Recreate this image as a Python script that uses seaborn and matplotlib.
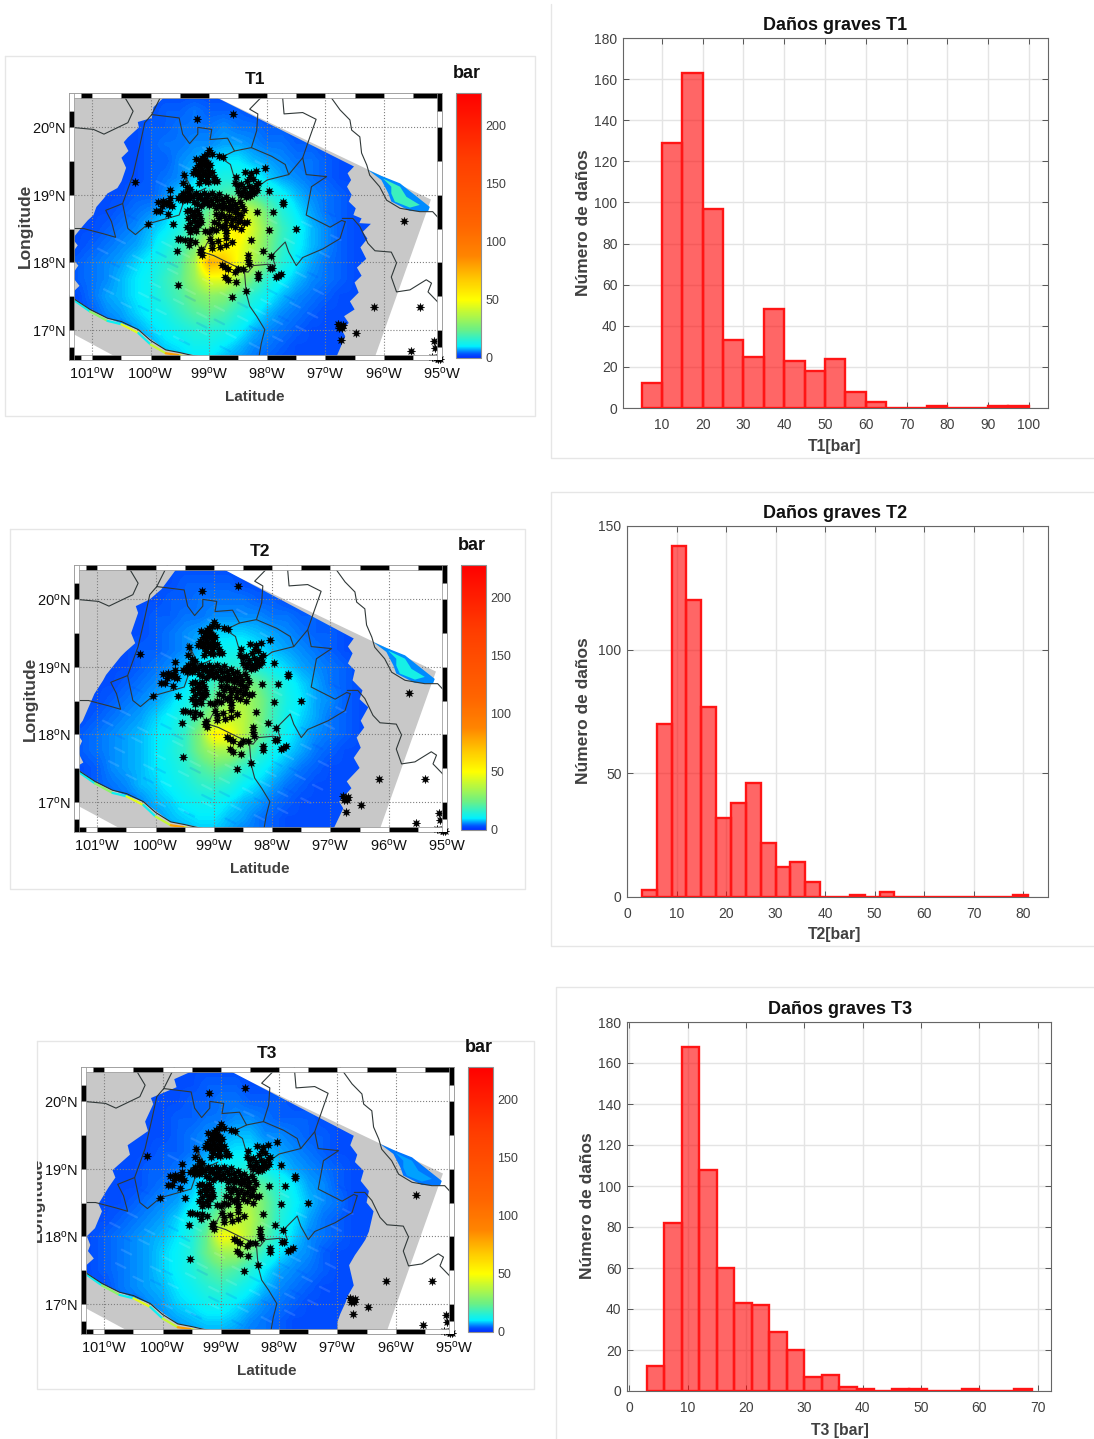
import matplotlib
matplotlib.use('Agg')
import matplotlib.pyplot as plt
import seaborn as sb
import numpy as np
from matplotlib.colors import LinearSegmentedColormap, Normalize
from matplotlib.cm import ScalarMappable
from matplotlib.patches import Polygon, Rectangle
from matplotlib.lines import Line2D
from matplotlib.transforms import Bbox, blended_transform_factory

W, H = 1094, 1439

# histograms: bin edges start, width and counts
t1_start, t1_width = 5, 5
t1_counts = [12, 129, 163, 97, 33, 25, 48, 23, 18, 24, 8, 3, 0, 0, 1, 0, 0, 1, 1]
t2_start, t2_width = 3, 3
t2_counts = [3, 70, 142, 120, 77, 32, 38, 46, 22, 12, 14, 6, 0, 0, 1, 0, 2, 0, 0, 0, 0, 0, 0, 0, 0, 1]
t3_start, t3_width = 3, 3
t3_counts = [12, 82, 168, 108, 60, 43, 42, 29, 20, 7, 8, 2, 1, 0, 1, 1, 0, 0, 1, 0, 0, 1]

# colour bar
cbar_ticks = [0, 50, 100, 150, 200]
cbar_max = 228
cmap_bar = [0, 3, 5, 7, 10, 25, 50, 68, 88, 115, 173, 228]
cmap_col = ['#0030ff', '#0050ff', '#0078ff', '#00a8ff', '#00f0ff', '#70f080', '#ffff00',
            '#ffc800', '#ff8400', '#ff6400', '#ff3c00', '#ff0000']

# map axes
lon_ticks = [-101, -100, -99, -98, -97, -96, -95]
lat_ticks = [17, 18, 19, 20]
lon_grid = [-101.5 + 0.25 * i for i in range(25)]
lat_grid = [20.5 - 0.25 * i for i in range(17)]

# bar values, rows north to south
t1_field = [
    [3]*25,
    [3,3,3,3,3,3,3,4,4,5,4,4,4,3,3,3,3,3,3,3,3,3,3,3,3],
    [3,3,3,3,3,3,4,4,5,5,5,6,5,5,4,4,3,3,3,3,3,3,3,3,3],
    [3,3,3,3,3,3,4,5,5,6,6,7,7,6,5,5,4,4,3,3,3,3,3,3,3],
    [3,3,3,3,3,3,4,4,6,7,9,10,10,8,7,6,5,5,4,3,3,3,3,3,3],
    [3,3,3,3,3,3,4,5,6,9,12,14,14,12,9,7,6,5,4,3,3,3,3,3,3],
    [3,3,3,3,3,4,4,6,9,12,16,20,22,20,15,11,8,6,5,4,3,3,3,3,3],
    [3,3,3,3,4,5,6,8,11,16,24,36,47,38,24,15,10,7,5,4,3,3,3,3,3],
    [3,3,3,4,5,6,8,10,14,21,30,44,57,42,28,18,12,8,6,4,3,3,3,3,3],
    [3,3,4,5,6,7,9,13,18,26,42,52,50,38,26,17,11,8,6,4,3,3,3,3,3],
    [3,4,5,6,7,9,11,15,20,34,76,70,48,36,24,15,10,7,5,4,3,3,3,3,3],
    [3,4,5,6,8,10,12,17,22,32,46,46,34,24,15,11,8,6,5,4,3,3,3,3,3],
    [3,3,5,7,8,10,12,16,20,26,30,28,21,15,11,8,6,5,4,3,3,3,3,3,3],
    [3,3,4,6,7,9,11,13,17,21,23,20,15,11,8,6,5,4,3,3,3,3,3,3,3],
    [3,3,3,4,6,7,9,11,13,15,15,14,11,8,6,5,4,3,3,3,3,3,3,3,3],
    [3,3,3,3,4,5,7,9,10,12,12,10,8,6,5,4,3,3,3,3,3,3,3,3,3],
    [3,3,3,3,3,4,5,7,8,9,9,7,6,5,4,3,3,3,3,3,3,3,3,3,3],
]
t2_field = [
    [3]*25,
    [3,3,3,3,3,3,3,3,4,4,4,4,3,3,3,3,3,3,3,3,3,3,3,3,3],
    [3,3,3,3,3,3,3,4,4,5,5,5,5,4,4,3,3,3,3,3,3,3,3,3,3],
    [3,3,3,3,3,3,4,4,5,5,6,6,6,6,5,5,4,4,3,3,3,3,3,3,3],
    [3,3,3,3,3,3,4,5,6,7,9,9,9,8,7,6,5,4,4,3,3,3,3,3,3],
    [3,3,3,3,3,4,4,5,6,8,11,12,12,10,8,7,6,5,4,3,3,3,3,3,3],
    [3,3,3,3,3,4,5,6,8,10,13,15,16,14,11,9,7,6,5,4,3,3,3,3,3],
    [3,3,3,3,4,5,6,7,9,13,18,24,28,24,17,12,9,7,5,4,3,3,3,3,3],
    [3,3,3,4,5,6,7,9,12,17,24,32,36,28,19,13,10,7,6,4,3,3,3,3,3],
    [3,3,4,5,6,7,9,11,15,22,32,40,38,28,18,12,9,7,5,4,3,3,3,3,3],
    [3,4,5,6,7,8,10,12,17,28,54,52,38,26,16,11,8,6,5,4,3,3,3,3,3],
    [3,4,5,6,7,8,10,13,17,26,34,34,26,17,12,9,7,5,4,3,3,3,3,3,3],
    [3,3,4,6,7,8,10,12,15,20,24,21,16,12,9,7,5,4,3,3,3,3,3,3,3],
    [3,3,4,5,6,8,9,11,13,16,17,15,11,9,7,5,4,3,3,3,3,3,3,3,3],
    [3,3,3,4,5,6,8,9,11,12,12,10,8,7,5,4,3,3,3,3,3,3,3,3,3],
    [3,3,3,3,4,5,6,8,9,10,10,8,7,5,4,3,3,3,3,3,3,3,3,3,3],
    [3,3,3,3,3,4,5,6,7,8,8,7,5,5,4,3,3,3,3,3,3,3,3,3,3],
]
t3_field = [
    [3]*25,
    [3,3,3,3,3,3,3,3,3,4,4,4,3,3,3,3,3,3,3,3,3,3,3,3,3],
    [3,3,3,3,3,3,3,3,4,4,5,5,4,4,4,3,3,3,3,3,3,3,3,3,3],
    [3,3,3,3,3,3,3,4,4,5,5,6,6,5,4,4,4,3,3,3,3,3,3,3,3],
    [3,3,3,3,3,3,3,4,5,6,7,8,8,6,6,5,4,4,3,3,3,3,3,3,3],
    [3,3,3,3,3,3,4,4,5,7,9,10,10,8,7,6,5,4,3,3,3,3,3,3,3],
    [3,3,3,3,3,4,4,5,7,9,11,13,15,12,9,7,6,5,4,3,3,3,3,3,3],
    [3,3,3,3,3,4,5,6,8,11,15,21,26,21,14,10,7,6,4,3,3,3,3,3,3],
    [3,3,3,3,4,5,6,7,10,14,21,29,35,25,16,11,8,6,5,3,3,3,3,3,3],
    [3,3,3,4,5,6,7,9,13,19,29,39,37,25,15,10,7,5,4,3,3,3,3,3,3],
    [3,3,4,5,6,7,8,10,14,24,50,47,35,22,13,9,6,5,4,3,3,3,3,3,3],
    [3,3,4,5,6,7,9,11,15,24,33,33,24,15,10,7,6,4,3,3,3,3,3,3,3],
    [3,3,4,5,6,7,9,11,14,19,23,20,15,10,7,6,5,4,3,3,3,3,3,3,3],
    [3,3,3,5,6,7,8,10,12,15,17,14,11,8,6,5,4,3,3,3,3,3,3,3,3],
    [3,3,3,4,5,6,7,9,10,12,12,10,8,6,5,4,3,3,3,3,3,3,3,3,3],
    [3,3,3,3,4,5,6,7,8,9,9,8,6,5,4,3,3,3,3,3,3,3,3,3,3],
    [3,3,3,3,3,4,5,6,6,7,7,6,5,5,4,3,3,3,3,3,3,3,3,3,3],
]

# outline of the coloured part of each map
t1_edge_lon = [-99.74, -99.0, -96.51, -96.62, -96.56, -96.63, -96.55, -96.6, -96.48, -96.52, -96.38, -96.42, -96.22, -96.36, -96.28, -96.4,
               -96.3, -96.46, -96.38, -96.5, -96.43, -96.58, -96.5, -96.68, -96.6, -96.72, -96.66, -96.86, -99.04, -99.1, -99.74, -100.21,
               -100.74, -101.04, -101.32, -101.4, -101.22, -101.36, -101.24, -101.38, -101.25, -101.34, -101.15, -101.08, -100.98, -100.93,
               -100.8, -100.74, -100.57, -100.5, -100.42, -100.5, -100.38, -100.46, -100.39, -100.2, -100.22, -99.98, -99.95, -99.8]
t1_edge_lat = [20.5, 20.5, 19.42, 19.32, 19.22, 19.12, 19.0, 18.9, 18.8, 18.7, 18.65, 18.58, 18.57, 18.45, 18.35, 18.22,
               18.05, 17.92, 17.8, 17.7, 17.55, 17.42, 17.3, 17.2, 17.1, 17.0, 16.9, 16.5, 16.5, 16.6, 16.7, 17.0,
               17.17, 17.3, 17.47, 17.5, 17.65, 17.8, 17.95, 18.1, 18.25, 18.35, 18.55, 18.62, 18.7, 18.82,
               18.95, 19.02, 19.1, 19.2, 19.4, 19.55, 19.65, 19.78, 19.85, 20.0, 20.08, 20.14, 20.3, 20.42]
t2_edge_lon = [-99.6, -98.95, -96.6, -96.7, -96.62, -96.7, -96.58, -96.62, -96.45, -96.5, -96.35, -96.48, -96.42, -96.55, -96.48, -96.6, -96.5,
               -96.72, -96.64, -96.85, -96.78, -97.0, -99.04, -99.1, -99.74, -100.21, -100.74, -101.04, -101.32, -101.4, -101.24, -101.34, -101.26,
               -101.38, -101.25, -101.1, -101.05, -100.9, -100.85, -100.6, -100.52, -100.35, -100.42, -100.3, -100.34, -100.1, -99.9]
t2_edge_lat = [20.5, 20.5, 19.42, 19.3, 19.2, 19.05, 18.95, 18.8, 18.65, 18.52, 18.4, 18.2, 18.1, 17.95, 17.8, 17.65, 17.5,
               17.3, 17.2, 17.0, 16.9, 16.5, 16.5, 16.6, 16.7, 17.0, 17.17, 17.3, 17.47, 17.5, 17.58, 17.75, 17.9,
               18.05, 18.2, 18.5, 18.6, 18.8, 18.88, 19.15, 19.22, 19.35, 19.5, 19.8, 19.9, 20.0, 20.15]
t3_edge_lon = [-99.36, -98.95, -96.72, -96.78, -96.66, -96.7, -96.55, -96.6, -96.46, -96.5, -96.38, -96.46, -96.52, -96.58, -96.7, -96.8, -96.72,
               -96.82, -96.86, -96.95, -97.0, -97.0, -99.04, -99.1, -99.74, -100.21, -100.74, -101.04, -101.32, -101.4, -101.18, -101.28, -101.24, -101.3,
               -101.16, -101.04, -101.1, -100.93, -100.81, -100.86, -100.56, -100.6, -100.25, -100.3, -100.16, -100.2, -99.76, -99.8]
t3_edge_lat = [20.5, 20.5, 19.49, 19.35, 19.21, 19.1, 18.97, 18.82, 18.67, 18.5, 18.37, 18.07, 17.95, 17.87, 17.72, 17.57, 17.27,
               17.12, 17.02, 16.85, 16.73, 16.5, 16.5, 16.6, 16.7, 17.0, 17.17, 17.3, 17.47, 17.5, 17.67, 17.78, 17.87, 18.0,
               18.12, 18.37, 18.48, 18.72, 18.87, 18.98, 19.21, 19.35, 19.56, 19.7, 19.96, 20.05, 20.21, 20.33]

# grey swath
swath_lon = [-101.4, -99.0, -95.19, -96.19, -100.39, -101.4]
swath_lat = [20.5, 20.5, 18.93, 16.5, 16.5, 16.97]

# patch on the gulf side
gulf_lon = [-96.27, -96.04, -95.72, -95.21, -95.24, -95.55, -95.87, -95.92, -96.04]
gulf_lat = [19.37, 19.28, 19.17, 18.82, 18.75, 18.76, 18.90, 19.02, 19.22]
gulf_in_lon = [-96.01, -95.72, -95.61, -95.38, -95.55, -95.81, -95.87, -95.87]
gulf_in_lat = [19.24, 19.12, 18.97, 18.85, 18.81, 18.9, 19.02, 19.12]
gulf_values = {'T1': (6, 18), 'T2': (6, 13), 'T3': (5, 7)}

# pacific coast strip
coast_lon = [-101.4, -101.32, -101.04, -100.74, -100.5, -100.21, -100.0, -99.74, -99.5, -99.3, -99.04]
coast_lat = [17.5, 17.46, 17.3, 17.17, 17.12, 17.0, 16.84, 16.7, 16.66, 16.62, 16.58]
strip_lon = [-101.32, -101.04, -100.74, -100.5, -100.21, -100.0, -99.74, -99.5, -99.3, -99.08]
strip_lat = [17.44, 17.27, 17.13, 17.08, 16.95, 16.78, 16.65, 16.62, 16.58, 16.55]
strip_values = [12, 30, 12, 45, 12, 40, 80, 45, 75]

# state borders, one pair per line
borders = [
    ([-100.48, -100.30, -100.39, -100.8, -100.98, -101.36, -101.4], [20.5, 20.24, 20.07, 19.9, 19.97, 20.0, 20.0]),
    ([-99.8, -99.98, -100.1, -100.18, -100.3, -100.48, -100.77, -100.67, -100.6, -100.8, -101.15, -101.4],
     [20.5, 20.19, 20.07, 19.75, 19.3, 18.87, 18.77, 18.6, 18.37, 18.42, 18.5, 18.5]),
    ([-100.48, -100.39, -100.26, -100.04, -99.51, -99.45, -99.36, -99.27, -99.45, -99.3, -99.05], [18.87, 18.5, 18.41, 18.57, 18.7, 18.85, 18.95, 19.05, 19.35, 19.0, 19.1]),
    ([-99.98, -99.51, -99.45, -99.33, -99.19, -99.19, -98.95, -98.98, -98.68, -98.56, -98.27, -98.18, -98.16, -98.3, -98.04],
     [20.19, 20.14, 19.9, 19.76, 19.9, 20.0, 19.97, 19.82, 19.84, 19.65, 19.7, 19.95, 20.2, 20.27, 20.5]),
    ([-98.56, -98.8, -98.63, -98.57, -98.48, -98.68, -98.92, -99.04, -99.1, -98.92], [19.65, 19.55, 19.45, 19.27, 18.92, 18.6, 18.42, 18.27, 18.15, 18.1]),
    ([-98.27, -97.92, -97.69, -97.63, -98.0, -98.27], [19.7, 19.57, 19.45, 19.3, 19.22, 19.05]),
    ([-97.63, -97.39, -97.33, -96.98, -97.24, -97.33, -96.92, -96.72, -96.66], [19.3, 19.55, 19.3, 19.27, 19.12, 18.7, 18.52, 18.62, 18.6]),
    ([-97.74, -97.71, -97.39, -97.16, -97.27, -97.39], [20.5, 20.2, 20.22, 20.12, 19.85, 19.55]),
    ([-96.66, -96.75, -97.04, -97.39, -97.5, -97.63, -97.69, -97.92, -97.86, -97.98, -98.24, -98.33, -98.39, -98.57, -98.92],
     [18.6, 18.35, 18.2, 18.07, 17.95, 18.15, 18.3, 18.1, 17.95, 17.97, 17.95, 17.85, 17.9, 17.95, 18.1]),
    ([-98.39, -98.36, -98.3, -98.18, -98.04, -98.1, -98.16], [17.87, 17.55, 17.35, 17.2, 17.0, 16.8, 16.5]),
    ([-96.95, -96.75, -96.58, -96.55, -96.41, -96.38, -96.29, -96.24, -96.07, -95.95, -95.72, -95.38, -95.16, -95.0],
     [20.5, 20.26, 20.11, 19.96, 19.86, 19.62, 19.44, 19.29, 19.12, 18.92, 18.8, 18.75, 18.75, 18.6]),
    ([-96.71, -96.53, -96.41, -96.27, -96.15, -95.87, -95.78, -95.87, -95.78, -95.55, -95.27, -95.18, -95.24, -95.05, -95.0],
     [18.65, 18.65, 18.53, 18.28, 18.17, 18.15, 17.99, 17.78, 17.56, 17.59, 17.74, 17.69, 17.56, 17.39, 17.3]),
]

# damage sites, lon and lat
site_lon = [-98.99, -99.03, -99.08, -98.94, -98.83, -98.76, -99.22, -99.16, -99.12, -99.06, -99.02, -99.19, -99.14, -99.09, -99.04, -98.98,
            -99.23, -99.18, -99.11, -99.07, -99.01, -98.95, -99.21, -99.15, -99.1, -99.04, -98.99, -98.92, -99.13, -99.07, -99.02, -98.91,
            -99.27, -99.17, -98.86, -99.43, -99.44, -99.37, -99.32, -99.38, -99.34, -99.45, -99.41, -99.48, -99.53, -99.46, -99.38, -99.33,
            -99.66, -99.78, -99.74, -99.69, -99.8, -99.68, -99.63, -99.84, -99.7, -99.91, -100.04, -99.87, -99.61, -99.67,
            -99.28, -99.22, -99.19, -99.15, -99.12, -99.08, -99.05, -99.01, -98.97, -98.94, -98.9, -98.86, -98.83, -98.78, -98.75, -98.71,
            -98.67, -98.63, -98.6, -98.55, -98.51, -98.47, -98.43, -98.4, -99.25, -99.2, -99.14, -99.09, -99.03, -98.99, -98.93, -98.88,
            -98.82, -98.77, -98.71, -98.66, -98.6, -98.56, -98.5, -98.45, -99.38, -99.32, -99.26, -99.2, -99.17, -99.23, -99.29, -99.35,
            -99.16, -99.21, -99.26, -99.33, -99.18, -99.13, -99.24, -99.37, -99.3, -99.32, -99.22, -98.88, -98.83, -98.8, -98.74, -98.7,
            -98.65, -98.6, -98.55, -98.5, -98.46, -98.4, -98.35, -98.92, -98.85, -98.78, -98.72, -98.62, -98.55, -98.45, -98.95, -98.88,
            -98.7, -98.53, -98.38, -98.27, -98.2, -98.03, -98.3, -98.25, -98.35, -98.45, -98.5, -98.4, -98.32, -98.26, -98.2, -98.15,
            -98.42, -98.34, -98.27, -98.22, -98.17, -98.45, -98.37, -98.3, -98.5, -98.56, -99.53, -99.41, -99.5, -99.33, -99.24, -99.34,
            -99.54, -99.13, -99.15, -99.11, -98.95, -98.94, -98.84, -98.81, -98.7, -98.61, -98.7, -98.27, -97.93, -98.07, -98.33, -98.33,
            -98.31, -98.15, -98.15, -97.81, -97.77, -97.85, -97.95, -97.91, -98.73, -98.67, -98.77, -98.55, -98.5, -98.41, -98.73, -98.67,
            -98.54, -99.53, -98.61, -98.37, -97.73, -97.73, -97.9, -98.17, -97.97, -97.51, -97.97, -98.99, -99.07, -98.7, -98.98, -99.21,
            -98.58, -100.26, -95.66, -96.16, -95.38, -96.78, -96.74, -96.7, -96.76, -96.72, -96.48, -96.73, -95.53, -95.13, -95.12, -95.17,
            -95.1, -95.07, -95.03]
site_lat = [19.66, 19.61, 19.58, 19.6, 19.57, 19.56, 19.53, 19.5, 19.54, 19.52, 19.47, 19.44, 19.42, 19.46, 19.41, 19.44,
            19.38, 19.36, 19.37, 19.33, 19.37, 19.34, 19.31, 19.28, 19.31, 19.27, 19.3, 19.27, 19.23, 19.21, 19.19, 19.21,
            19.33, 19.18, 19.2, 19.3, 19.18, 19.12, 19.08, 19.04, 19.0, 19.03, 18.97, 18.98, 18.96, 18.92, 18.93, 18.95,
            18.95, 18.91, 18.88, 18.9, 18.84, 18.85, 18.83, 18.76, 18.72, 18.76, 18.57, 18.89, 18.56, 19.07,
            18.98, 19.02, 18.95, 19.0, 18.94, 19.02, 18.96, 18.99, 18.93, 19.03, 18.97, 18.92, 19.01, 18.94, 18.88, 18.97,
            18.91, 18.85, 18.93, 18.87, 18.8, 18.9, 18.84, 18.77, 18.9, 18.87, 18.84, 18.88, 18.9, 18.85, 18.86, 18.8,
            18.85, 18.8, 18.82, 18.78, 18.8, 18.74, 18.72, 18.7, 18.76, 18.78, 18.75, 18.78, 18.72, 18.68, 18.7, 18.66,
            18.65, 18.6, 18.62, 18.58, 18.55, 18.59, 18.52, 18.52, 18.5, 18.45, 18.46, 18.72, 18.66, 18.72, 18.69, 18.62,
            18.68, 18.63, 18.65, 18.6, 18.63, 18.58, 18.6, 18.6, 18.56, 18.52, 18.55, 18.55, 18.53, 18.5, 18.5, 18.48,
            18.48, 19.27, 19.34, 19.33, 19.36, 19.4, 19.27, 19.24, 19.2, 19.16, 19.13, 19.1, 19.13, 19.1, 19.14, 19.18,
            19.04, 19.03, 19.05, 19.02, 19.07, 19.0, 18.97, 18.98, 19.05, 19.18, 18.35, 18.33, 18.34, 18.33, 18.3, 18.25,
            18.16, 18.2, 18.15, 18.1, 18.28, 18.21, 18.32, 18.22, 18.25, 18.3, 18.36, 18.33, 18.09, 18.17, 18.1, 18.04,
            17.97, 17.82, 17.76, 17.8, 17.82, 17.78, 17.92, 17.91, 17.93, 17.9, 17.96, 17.85, 17.9, 17.9, 17.78, 17.73,
            17.7, 17.66, 17.48, 17.57, 18.86, 18.9, 18.75, 18.74, 18.48, 18.49, 19.05, 18.45, 18.47, 18.43, 18.35, 20.13,
            20.2, 19.19, 18.61, 17.33, 17.34, 17.08, 17.06, 17.07, 17.03, 17.02, 16.95, 16.84, 16.69, 16.83, 16.73, 16.6,
            16.58, 16.57, 16.56]

# short lighter and darker streaks seen in the field
light_lon = [-100.9, -100.6, -100.3, -100.1, -99.8, -99.5, -99.3, -98.6, -98.3, -98.0, -97.7, -97.4, -97.1, -96.9, -100.7, -100.4, -100.0, -99.7, -99.4, -99.1,
             -98.8, -98.4, -98.1, -97.8, -97.5, -97.2, -100.8, -100.5, -100.2, -99.9, -99.6, -99.2, -98.9, -98.5, -98.2, -97.9, -97.6, -97.3, -100.0, -99.6,
             -99.2, -98.7, -98.3, -97.9, -97.5, -99.9, -99.5, -99.1, -98.6, -98.2]
light_lat = [18.2, 18.35, 18.1, 18.6, 18.3, 18.15, 18.25, 17.85, 18.2, 18.65, 18.35, 18.6, 18.15, 18.4, 17.8, 17.95, 17.7, 17.9, 17.6, 17.75,
             17.55, 17.65, 17.45, 17.7, 17.85, 17.6, 17.6, 17.4, 17.55, 17.3, 17.45, 17.25, 17.35, 17.2, 17.3, 17.15, 17.4, 17.25, 17.0, 16.9,
             17.0, 16.95, 16.8, 16.9, 17.05, 19.2, 19.45, 19.7, 19.85, 19.5]
dark_lon = [-100.4, -99.9, -99.4, -98.9, -98.0, -97.5, -97.0, -100.7, -100.2, -99.7, -99.2, -98.5, -97.8, -97.3, -100.5, -100.0, -99.5, -98.8, -98.3, -97.7]
dark_lat = [18.7, 18.15, 17.5, 17.15, 17.6, 18.1, 18.75, 18.0, 17.35, 18.0, 17.1, 17.4, 17.2, 17.85, 17.15, 17.5, 16.85, 16.75, 17.05, 17.5]


def px_axes(fig, left, top, right, bottom):
    return fig.add_axes([left / W, 1 - bottom / H, (right - left) / W, (bottom - top) / H])


def box_line(fig, xs, ys):
    fig.add_artist(Line2D([x / W for x in xs], [1 - y / H for y in ys], color='#e6e6e6', lw=1))


def px_text(fig, x, y, s, **kw):
    return fig.text(x / W, 1 - y / H, s, ha='center', va='center', **kw)


# black and white bands round the map
def fancy_frame(ax):
    tx = blended_transform_factory(ax.transData, ax.transAxes)
    ty = blended_transform_factory(ax.transAxes, ax.transData)
    dy, dx = 5 / 267, 5 / 373
    lons = [-101.4, -101.2, -101] + [-101 + 0.5 * i for i in range(1, 13)]
    lats = [16.55, 16.75, 17] + [17 + 0.5 * i for i in range(1, 7)] + [20.25, 20.51]
    for i in range(len(lons) - 1):
        bottom_col = 'k' if i % 2 == 0 else 'w'
        top_col = 'w' if i % 2 == 0 else 'k'
        ax.add_patch(Rectangle((lons[i], 0), lons[i + 1] - lons[i], dy, transform=tx, fc=bottom_col, ec='#909090', lw=0.5, zorder=8))
        ax.add_patch(Rectangle((lons[i], 1 - dy), lons[i + 1] - lons[i], dy, transform=tx, fc=top_col, ec='#909090', lw=0.5, zorder=8))
    for i in range(len(lats) - 1):
        left_col = 'k' if i % 2 == 0 else 'w'
        right_col = 'w' if i % 2 == 0 else 'k'
        ax.add_patch(Rectangle((0, lats[i]), dx, lats[i + 1] - lats[i], transform=ty, fc=left_col, ec='#909090', lw=0.5, zorder=8))
        ax.add_patch(Rectangle((1 - dx, lats[i]), dx, lats[i + 1] - lats[i], transform=ty, fc=right_col, ec='#909090', lw=0.5, zorder=8))


def draw_map(fig, name, field, edge_lon, edge_lat, left, top, cmap, norm):
    ax = px_axes(fig, left, top, left + 373, top + 267)
    ax.add_patch(Polygon(np.column_stack([swath_lon, swath_lat]), fc='#c8c8c8', ec='none', zorder=1))
    img = ax.imshow(field, cmap=cmap, norm=norm, aspect='auto', interpolation='bilinear', zorder=2,
                    extent=[lon_grid[0] - 0.125, lon_grid[-1] + 0.125, lat_grid[-1] - 0.125, lat_grid[0] + 0.125])
    outline = Polygon(np.column_stack([edge_lon, edge_lat]), transform=ax.transData, fc='none', ec='none')
    img.set_clip_path(outline)
    for xs, ys, col in ((light_lon, light_lat, 'white'), (dark_lon, dark_lat, '#0030ff')):
        for sx, sy in zip(xs, ys):
            line, = ax.plot([sx, sx + 0.16], [sy, sy - 0.07], color=col, alpha=0.12, lw=1.6, zorder=2.5)
            line.set_clip_path(outline)
    gulf_out, gulf_in = gulf_values[name]
    ax.add_patch(Polygon(np.column_stack([gulf_lon, gulf_lat]), fc=cmap(norm(gulf_out)), ec='none', zorder=3))
    ax.add_patch(Polygon(np.column_stack([gulf_in_lon, gulf_in_lat]), fc=cmap(norm(gulf_in)), ec='none', zorder=3))
    for i, val in enumerate(strip_values):
        ax.plot(strip_lon[i:i + 2], strip_lat[i:i + 2], color=cmap(norm(val)), lw=1.6, zorder=3, solid_capstyle='round')
    ax.plot(coast_lon, coast_lat, color='#203030', lw=0.8, zorder=4)
    for blon, blat in borders:
        ax.plot(blon, blat, color='#303838', lw=0.8, zorder=4)
    sb.scatterplot(x=site_lon, y=site_lat, marker=(8, 1, 0), color='k', s=36, linewidth=0.3, edgecolor='k', ax=ax, zorder=6, clip_on=False)
    ax.set_xlim(-101.4, -95)
    ax.set_ylim(16.55, 20.51)
    ax.set_xticks(lon_ticks)
    ax.set_yticks(lat_ticks)
    ax.set_xticklabels([r'$\mathrm{%d^{o}W}$' % abs(v) for v in lon_ticks])
    ax.set_yticklabels([r'$\mathrm{%d^{o}N}$' % v for v in lat_ticks])
    ax.tick_params(axis='x', length=0, labelsize=10.5, labelcolor='#111111', pad=4)
    ax.tick_params(axis='y', length=0, labelsize=10.5, labelcolor='#111111', pad=2)
    ax.grid(True, color='#808080', lw=0.8, ls=':', zorder=5)
    ax.set_axisbelow(False)
    for sp in ax.spines.values():
        sp.set_color('#909090')
        sp.set_linewidth(0.6)
    fancy_frame(ax)

    cax = px_axes(fig, left + 387, top, left + 412, top + 265)
    cb = fig.colorbar(ScalarMappable(norm=norm, cmap=cmap), cax=cax, ticks=cbar_ticks)
    cb.ax.tick_params(direction='in', length=2, width=0.6, color='#555555', labelsize=9, labelcolor='#404040', pad=3)
    cb.outline.set_edgecolor('#909090')
    cb.outline.set_linewidth(0.8)

    px_text(fig, left + 186, top - 14, name, fontsize=12.5, fontweight='bold', color='#111111')
    px_text(fig, left + 398, top - 20, 'bar', fontsize=13, fontweight='bold', color='#111111')
    px_text(fig, left + 186, top + 304, 'Latitude', fontsize=11, fontweight='bold', color='#404040')
    return ax


def draw_hist(fig, start, width, counts, xlim, ymax, xticks, yticks, ybox):
    ax = px_axes(fig, *ybox)
    edges = [start + width * i for i in range(len(counts) + 1)]
    centers = [start + width * (i + 0.5) for i in range(len(counts))]
    sb.histplot(x=centers, weights=counts, bins=edges, color='red', alpha=0.6, edgecolor='#ff1515', linewidth=1.7, ax=ax, zorder=3)
    ax.set_xlim(*xlim)
    ax.set_ylim(0, ymax)
    ax.set_xticks(xticks)
    ax.set_yticks(yticks)
    ax.grid(True, color='#e4e4e4', lw=1, zorder=0)
    ax.set_axisbelow(True)
    ax.tick_params(axis='x', direction='in', length=4, width=0.7, color='#555555', labelsize=10, labelcolor='#404040',
                   top=True, bottom=True, pad=7)
    ax.tick_params(axis='y', direction='in', length=4, width=0.7, color='#555555', labelsize=10, labelcolor='#404040',
                   left=True, right=True, pad=4)
    for sp in ax.spines.values():
        sp.set_color('#666666')
        sp.set_linewidth(0.8)
    ax.set_xlabel('')
    ax.set_ylabel('')
    return ax


def main():
    sb.set_style('white')
    plt.rcParams['font.family'] = ['Liberation Sans', 'DejaVu Sans']
    plt.rcParams['mathtext.fontset'] = 'custom'
    plt.rcParams['mathtext.rm'] = 'Liberation Sans'
    plt.rcParams['mathtext.it'] = 'Liberation Sans'
    plt.rcParams['mathtext.bf'] = 'Liberation Sans:bold'

    fig = plt.figure(figsize=(W / 100, H / 100), dpi=100, facecolor='white')
    stops = [(v / cbar_max, c) for v, c in zip(cmap_bar, cmap_col)]
    cmap = LinearSegmentedColormap.from_list('bar_map', stops, N=512)
    norm = Normalize(0, cbar_max)

    # faint frames left from the pasted panels
    box_line(fig, [5, 535, 535, 5, 5], [56, 56, 416, 416, 56])
    box_line(fig, [10, 525, 525, 10, 10], [529, 529, 889, 889, 529])
    box_line(fig, [37, 534, 534, 37, 37], [1041, 1041, 1389, 1389, 1041])
    box_line(fig, [551, 551, 1094], [4, 458, 458])
    box_line(fig, [1094, 551, 551, 1094], [492, 492, 946, 946])
    box_line(fig, [1094, 556, 556], [987, 987, 1439])

    draw_map(fig, 'T1', t1_field, t1_edge_lon, t1_edge_lat, 69, 93, cmap, norm)
    px_text(fig, 25, 226, 'Longitude', fontsize=12.5, fontweight='bold', color='#404040', rotation=90)
    draw_map(fig, 'T2', t2_field, t2_edge_lon, t2_edge_lat, 74, 565, cmap, norm)
    px_text(fig, 30, 699, 'Longitude', fontsize=12.5, fontweight='bold', color='#404040', rotation=90)
    draw_map(fig, 'T3', t3_field, t3_edge_lon, t3_edge_lat, 81, 1067, cmap, norm)
    cut = px_text(fig, 37, 1200, 'Longitude', fontsize=12.5, fontweight='bold', color='#404040', rotation=90)
    cut.set_clip_on(True)
    cut.set_clip_box(Bbox([[37, 0], [80, H]]))

    draw_hist(fig, t1_start, t1_width, t1_counts, (0.45, 104.7), 180,
              list(range(10, 101, 10)), list(range(0, 181, 20)), (623, 38, 1048, 408))
    px_text(fig, 835, 26, 'Daños graves T1', fontsize=13, fontweight='bold', color='#111111')
    px_text(fig, 835, 447, 'T1[bar]', fontsize=11.3, fontweight='bold', color='#404040')
    px_text(fig, 584, 223, 'Número de daños', fontsize=12.5, fontweight='bold', color='#404040', rotation=90)

    draw_hist(fig, t2_start, t2_width, t2_counts, (0, 85), 150,
              list(range(0, 81, 10)), [0, 50, 100, 150], (627, 526, 1048, 897))
    px_text(fig, 835, 514, 'Daños graves T2', fontsize=13, fontweight='bold', color='#111111')
    px_text(fig, 835, 935, 'T2[bar]', fontsize=11.3, fontweight='bold', color='#404040')
    px_text(fig, 584, 711, 'Número de daños', fontsize=12.5, fontweight='bold', color='#404040', rotation=90)

    draw_hist(fig, t3_start, t3_width, t3_counts, (-0.4, 72.3), 180,
              list(range(0, 71, 10)), list(range(0, 181, 20)), (627, 1022, 1051, 1391))
    px_text(fig, 840, 1009, 'Daños graves T3', fontsize=13, fontweight='bold', color='#111111')
    px_text(fig, 840, 1430, 'T3 [bar]', fontsize=11.3, fontweight='bold', color='#404040')
    px_text(fig, 588, 1206, 'Número de daños', fontsize=12.5, fontweight='bold', color='#404040', rotation=90)

    fig.savefig('out.png', dpi=100)


main()
